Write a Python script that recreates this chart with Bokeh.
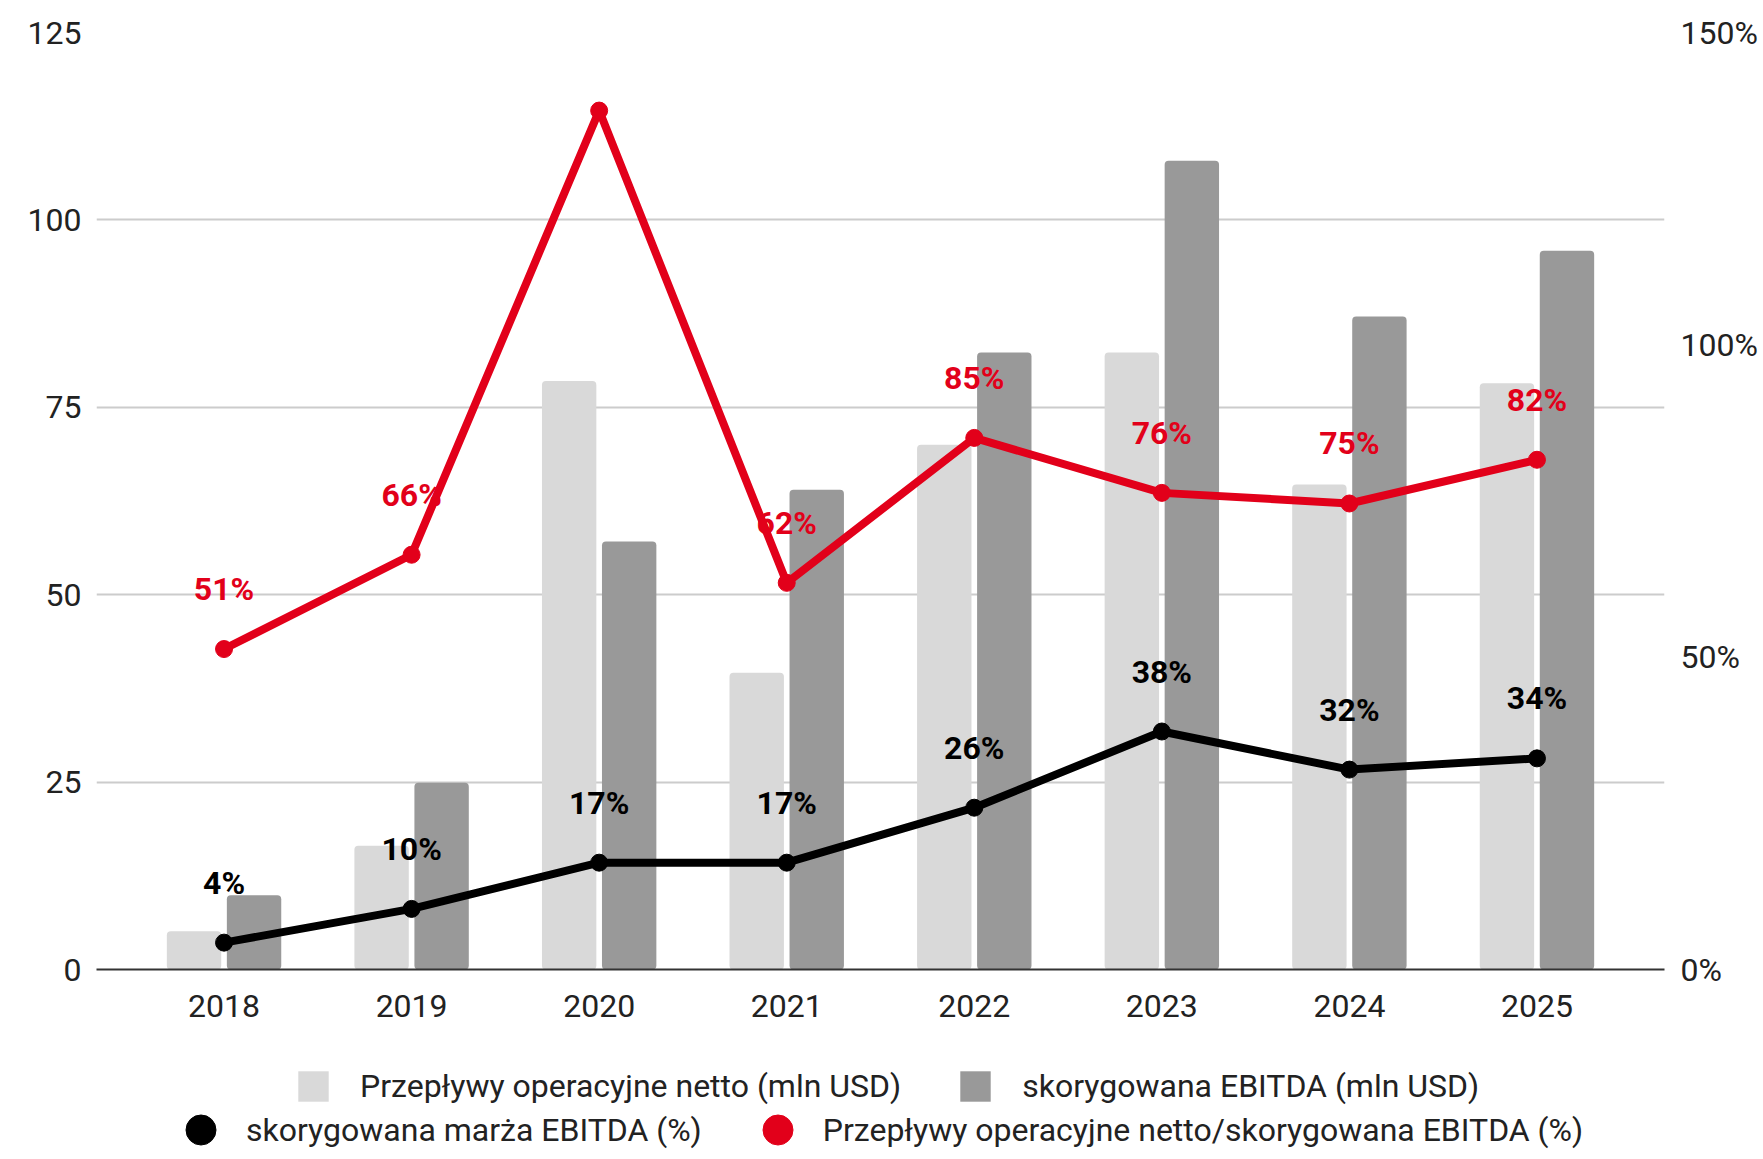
from bokeh.plotting import figure
from bokeh.layouts import column
from bokeh.models import Range1d, LinearAxis, FixedTicker, Legend, LegendItem, ColumnDataSource
from bokeh.core.properties import value
from bokeh.transform import dodge
from bokeh.embed import file_html
from bokeh.resources import INLINE

years = ["2018", "2019", "2020", "2021", "2022", "2023", "2024", "2025"]
netto = [5.1, 16.5, 78.5, 39.6, 70.0, 82.3, 64.7, 78.2]
ebitda = [9.9, 24.9, 57.1, 64.0, 82.3, 107.9, 87.1, 95.9]
marza = [4.3, 9.7, 17.1, 17.1, 25.9, 38.1, 32.0, 33.8]
ratio = [51.3, 66.4, 137.5, 61.9, 85.1, 76.3, 74.6, 81.6]
ratio_shown = [True, True, False, True, True, True, True, True]
left_ticks = [0, 25, 50, 75, 100, 125]
right_ticks = [0, 50, 100, 150]
right_tick_labels = ["0%", "50%", "100%", "150%"]
legend_bars = ["Przepływy operacyjne netto (mln USD)", "skorygowana EBITDA (mln USD)"]
legend_lines = ["skorygowana marża EBITDA (%)", "Przepływy operacyjne netto/skorygowana EBITDA (%)"]

FONT = "Roboto"
FS = "32px"
TXT = "#222222"
RED = "#e2001a"
LIGHT = "#d9d9d9"
DARK = "#999999"
W = 1760

xs = list(range(len(years)))
src = ColumnDataSource(dict(
    x=xs, netto=netto, ebitda=ebitda, marza=marza, ratio=ratio,
    mlab=[f"{round(v)}%" for v in marza],
    rlab=[f"{round(v)}%" if s else "" for v, s in zip(ratio, ratio_shown)],
))

p = figure(width=W, height=1038, output_backend="svg", toolbar_location=None,
           x_range=Range1d(-0.68, len(years) - 1 + 0.68), y_range=Range1d(0, 125),
           min_border_left=96, min_border_right=W - 96 - 1568, min_border_top=32,
           min_border_bottom=69)
p.outline_line_color = None
p.background_fill_color = "white"
p.border_fill_color = "white"
p.extra_y_ranges = {"pct": Range1d(0, 150)}

# axes
p.xaxis.ticker = FixedTicker(ticks=xs)
p.xaxis.major_label_overrides = {i: y for i, y in enumerate(years)}
p.xaxis.major_tick_out = 0
p.xaxis.major_tick_in = 0
p.xaxis.minor_tick_out = 0
p.xaxis.minor_tick_in = 0
p.xaxis.axis_line_color = "#333333"
p.xaxis.axis_line_width = 2
p.xaxis.major_label_standoff = 25
p.xaxis.major_label_text_font = FONT
p.xaxis.major_label_text_font_size = FS
p.xaxis.major_label_text_color = TXT

p.yaxis.ticker = FixedTicker(ticks=left_ticks)
p.yaxis.axis_line_color = None
p.yaxis.major_tick_out = 0
p.yaxis.major_tick_in = 0
p.yaxis.minor_tick_out = 0
p.yaxis.minor_tick_in = 0
p.yaxis.major_label_standoff = 15
p.yaxis.major_label_text_font = FONT
p.yaxis.major_label_text_font_size = FS
p.yaxis.major_label_text_color = TXT

raxis = LinearAxis(y_range_name="pct", ticker=FixedTicker(ticks=right_ticks),
                   major_label_overrides={t: l for t, l in zip(right_ticks, right_tick_labels)})
raxis.axis_line_color = None
raxis.major_tick_out = 0
raxis.major_tick_in = 0
raxis.minor_tick_out = 0
raxis.minor_tick_in = 0
raxis.major_label_standoff = 16
raxis.major_label_text_font = FONT
raxis.major_label_text_font_size = FS
raxis.major_label_text_color = TXT
p.add_layout(raxis, "right")

p.xgrid.grid_line_color = None
p.ygrid.grid_line_color = "#cccccc"
p.ygrid.grid_line_width = 2

# bars
p.vbar(x=dodge("x", -0.16), top="netto", width=0.29, source=src,
       fill_color=LIGHT, line_color=None, border_radius=4)
p.vbar(x=dodge("x", 0.16), top="ebitda", width=0.29, source=src,
       fill_color=DARK, line_color=None, border_radius=4)

# lines
p.line("x", "ratio", source=src, y_range_name="pct", line_color=RED, line_width=8)
p.scatter("x", "ratio", source=src, y_range_name="pct", size=17,
          fill_color=RED, line_color=RED)
p.line("x", "marza", source=src, y_range_name="pct", line_color="black", line_width=8)
p.scatter("x", "marza", source=src, y_range_name="pct", size=17,
          fill_color="black", line_color="black")

# data labels
p.text("x", "ratio", text="rlab", source=src, y_range_name="pct", y_offset=-60,
       text_align="center", text_baseline="middle", text_font=value(FONT),
       text_font_size=FS, text_font_style="bold", text_color=RED)
p.text("x", "marza", text="mlab", source=src, y_range_name="pct", y_offset=-60,
       text_align="center", text_baseline="middle", text_font=value(FONT),
       text_font_size=FS, text_font_style="bold", text_color="black")

# legend strip below the chart; its renderers are legend keys only (ranges keep them off-view)
p2 = figure(width=W, height=113, output_backend="svg", toolbar_location=None,
            x_range=Range1d(1000, 1001), y_range=Range1d(1000, 1001),
            x_axis_location=None, y_axis_location=None,
            min_border_left=0, min_border_right=0, min_border_top=0, min_border_bottom=0)
p2.outline_line_color = None
p2.xgrid.visible = False
p2.ygrid.visible = False
lg_light = p2.vbar(x="x", top="netto", width=0.29, source=src, fill_color=LIGHT, line_color=None)
lg_dark = p2.vbar(x="x", top="ebitda", width=0.29, source=src, fill_color=DARK, line_color=None)
lg_black = p2.scatter("x", "marza", source=src, fill_color="black", line_color="black")
lg_red = p2.scatter("x", "ratio", source=src, fill_color=RED, line_color=RED)

leg1 = Legend(items=[
    LegendItem(label=legend_bars[0], renderers=[lg_light]),
    LegendItem(label=legend_bars[1], renderers=[lg_dark]),
], orientation="horizontal", location=(198, 45), glyph_width=38, glyph_height=38,
    label_standoff=28, spacing=55, padding=0, margin=0, label_height=40,
    label_text_font=FONT, label_text_font_size=FS, label_text_color=TXT,
    border_line_alpha=0, background_fill_alpha=0)
leg2 = Legend(items=[
    LegendItem(label=legend_lines[0], renderers=[lg_black]),
    LegendItem(label=legend_lines[1], renderers=[lg_red]),
], orientation="horizontal", location=(67, -16), glyph_width=75, glyph_height=75,
    label_standoff=8, spacing=38, padding=0, margin=0,
    label_text_font=FONT, label_text_font_size=FS, label_text_color=TXT,
    border_line_alpha=0, background_fill_alpha=0)
p2.add_layout(leg1)
p2.add_layout(leg2)

layout = column(p, p2, spacing=0)
open("out.html", "w").write(file_html(layout, INLINE))
